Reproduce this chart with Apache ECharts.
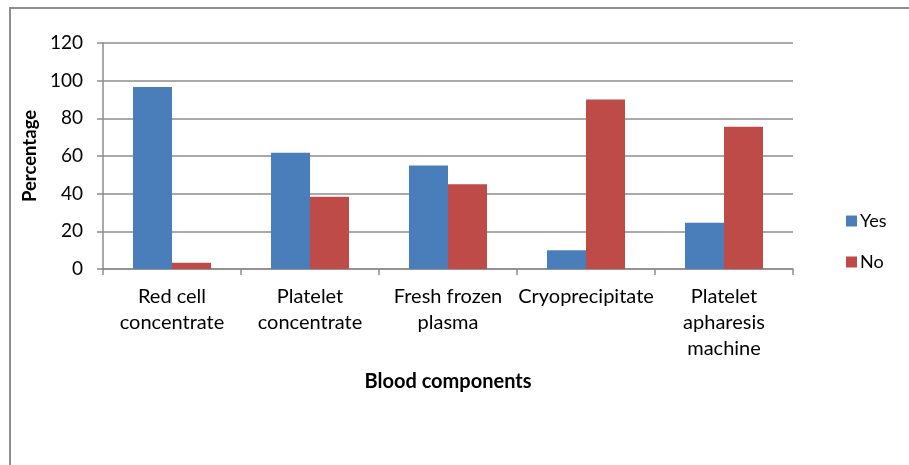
<!DOCTYPE html>
<html>
<head>
<meta charset="utf-8">
<script src="https://cdn.jsdelivr.net/npm/echarts@6/dist/echarts.min.js"></script>
<style>
  html, body { margin: 0; padding: 0; background: #fff; }
  #chart { width: 909px; height: 465px; }
  #frame { position: absolute; left: 9px; top: 7px; width: 920px; height: 480px;
           border: 2px solid #8e8e8e; box-sizing: border-box; pointer-events: none; }
</style>
</head>
<body>
<div id="chart"></div>
<div id="frame"></div>
<script>
// Blood components and the share of responses for each
const categories = [
  'Red cell\nconcentrate',
  'Platelet\nconcentrate',
  'Fresh frozen\nplasma',
  'Cryoprecipitate',
  'Platelet\napharesis\nmachine'
];
const yesValues = [96.7, 61.7, 55, 10, 24.5];
const noValues = [3.3, 38.3, 45, 90, 75.5];
const yTicks = [0, 20, 40, 60, 80, 100, 120];

const FONT = 'Lato';
const GRID_COLOR = '#8c8c8c';

const chart = echarts.init(document.getElementById('chart'));
chart.setOption({
  animation: false,
  textStyle: { fontFamily: FONT },
  grid: { left: 103, right: 116, top: 43, bottom: 196 },
  legend: {
    orient: 'vertical',
    left: 841,
    top: 207,
    itemWidth: 11,
    itemHeight: 11,
    itemGap: 23,
    icon: 'rect',
    textStyle: { fontFamily: FONT, fontSize: 18, color: '#000', padding: [0, 0, 0, -2] },
    data: ['Yes', 'No']
  },
  xAxis: {
    type: 'category',
    data: categories,
    name: 'Blood components',
    nameLocation: 'middle',
    nameGap: 103,
    nameTextStyle: { fontFamily: FONT, fontSize: 20, fontWeight: 'bold', color: '#000' },
    axisLine: { lineStyle: { color: GRID_COLOR, width: 1.5 } },
    axisTick: { show: true, length: 6, lineStyle: { color: GRID_COLOR, width: 1.5 } },
    axisLabel: { fontFamily: FONT, fontSize: 20, color: '#000', lineHeight: 26, margin: 15, interval: 0 }
  },
  yAxis: {
    type: 'value',
    min: yTicks[0],
    max: yTicks[yTicks.length - 1],
    interval: yTicks[1] - yTicks[0],
    name: 'Percentage',
    nameLocation: 'middle',
    nameGap: 59,
    nameRotate: 90,
    nameTextStyle: { fontFamily: FONT, fontSize: 18.5, fontWeight: 'bold', color: '#000' },
    axisLine: { show: true, lineStyle: { color: GRID_COLOR, width: 1.5 } },
    axisTick: { show: true, length: 6, lineStyle: { color: GRID_COLOR, width: 1.5 } },
    axisLabel: { fontFamily: FONT, fontSize: 19, color: '#000', margin: 20 },
    splitLine: { lineStyle: { color: GRID_COLOR, width: 1.5 } }
  },
  series: [
    {
      name: 'Yes',
      type: 'bar',
      data: yesValues,
      barWidth: 39,
      barGap: '0%',
      itemStyle: { color: '#4a7ebb' }
    },
    {
      name: 'No',
      type: 'bar',
      data: noValues,
      barWidth: 39,
      barGap: '0%',
      itemStyle: { color: '#be4b48' }
    }
  ]
});
</script>
</body>
</html>
